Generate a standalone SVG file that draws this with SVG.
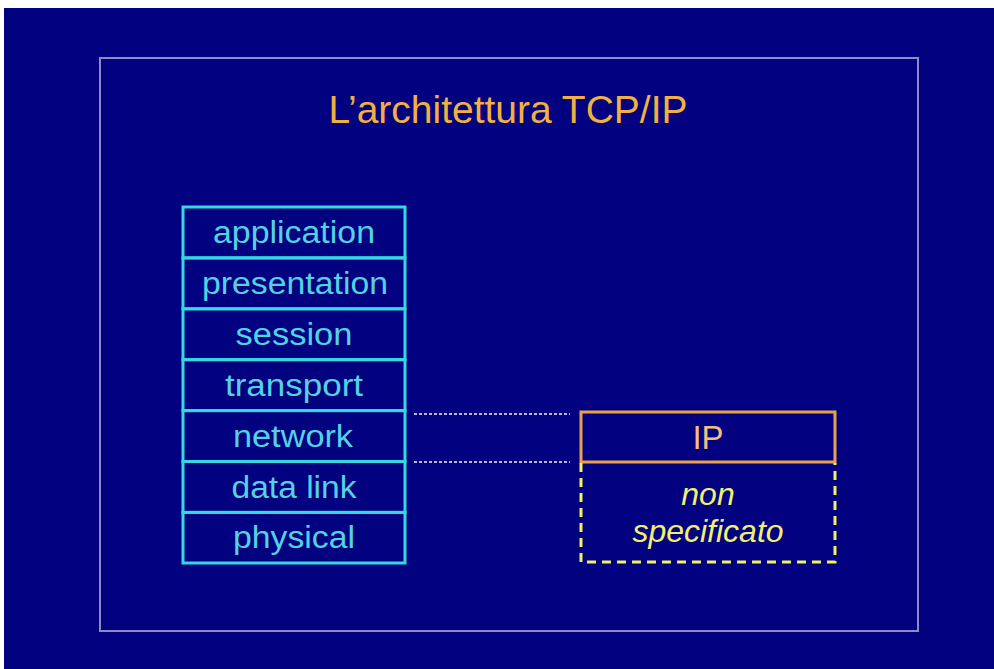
<svg xmlns="http://www.w3.org/2000/svg" width="994" height="669" viewBox="0 0 994 669">
  <style>
    .layer-box { fill: none; stroke: #34d8e0; stroke-width: 3; }
    .layer-text { font-family: "Liberation Sans", Arial, sans-serif; font-size: 31px; fill: #52d2e4; text-anchor: middle; }
    .title { font-family: "Liberation Sans", Arial, sans-serif; font-size: 39px; fill: #f2b040; text-anchor: middle; }
    .ip-text { font-family: "Liberation Sans", Arial, sans-serif; font-size: 33px; fill: #f4bc80; text-anchor: middle; }
    .unspec-text { font-family: "Liberation Sans", Arial, sans-serif; font-size: 32px; font-style: italic; fill: #f0f070; text-anchor: middle; }
    .dotted { stroke: #b8b8e0; stroke-width: 2; stroke-dasharray: 3 2; fill: none; }
  </style>

  <!-- page background -->
  <rect x="0" y="0" width="994" height="669" fill="#ffffff"/>
  <rect x="4" y="8" width="990" height="661" fill="#020280"/>

  <!-- slide frame -->
  <rect x="100" y="58" width="818" height="573" fill="none" stroke="#8c8cc4" stroke-width="2"/>

  <text class="title" x="508" y="123">L’architettura TCP/IP</text>

  <!-- OSI stack -->
  <g id="application">
    <rect class="layer-box" x="183" y="207" width="222" height="50.9"/>
    <text class="layer-text" x="294" y="243" textLength="162" lengthAdjust="spacingAndGlyphs">application</text>
  </g>
  <g id="presentation">
    <rect class="layer-box" x="183" y="257.9" width="222" height="50.9"/>
    <text class="layer-text" x="295" y="294" textLength="186" lengthAdjust="spacingAndGlyphs">presentation</text>
  </g>
  <g id="session">
    <rect class="layer-box" x="183" y="308.8" width="222" height="50.9"/>
    <text class="layer-text" x="294" y="345" textLength="117" lengthAdjust="spacingAndGlyphs">session</text>
  </g>
  <g id="transport">
    <rect class="layer-box" x="183" y="359.7" width="222" height="50.9"/>
    <text class="layer-text" x="294" y="396" textLength="138" lengthAdjust="spacingAndGlyphs">transport</text>
  </g>
  <g id="network">
    <rect class="layer-box" x="183" y="410.6" width="222" height="50.9"/>
    <text class="layer-text" x="293" y="447" textLength="120" lengthAdjust="spacingAndGlyphs">network</text>
  </g>
  <g id="data-link">
    <rect class="layer-box" x="183" y="461.5" width="222" height="50.9"/>
    <text class="layer-text" x="294" y="498" textLength="125" lengthAdjust="spacingAndGlyphs">data link</text>
  </g>
  <g id="physical">
    <rect class="layer-box" x="183" y="512.4" width="222" height="50.6"/>
    <text class="layer-text" x="294" y="548" textLength="122" lengthAdjust="spacingAndGlyphs">physical</text>
  </g>

  <!-- TCP/IP side -->
  <g id="ip">
    <rect x="581" y="412" width="254" height="50" fill="none" stroke="#eca048" stroke-width="3"/>
    <text class="ip-text" x="708" y="449">IP</text>
  </g>
  <g id="non-specificato">
    <path d="M581 463 V562 H835 V463" fill="none" stroke="#f0f060" stroke-width="3" stroke-dasharray="9 6"/>
    <text class="unspec-text" x="708" y="505">non</text>
    <text class="unspec-text" x="708" y="542">specificato</text>
  </g>

  <!-- correspondence lines -->
  <g id="connectors">
    <line class="dotted" x1="414" y1="414" x2="570" y2="414"/>
    <line class="dotted" x1="414" y1="462" x2="570" y2="462"/>
  </g>
</svg>
